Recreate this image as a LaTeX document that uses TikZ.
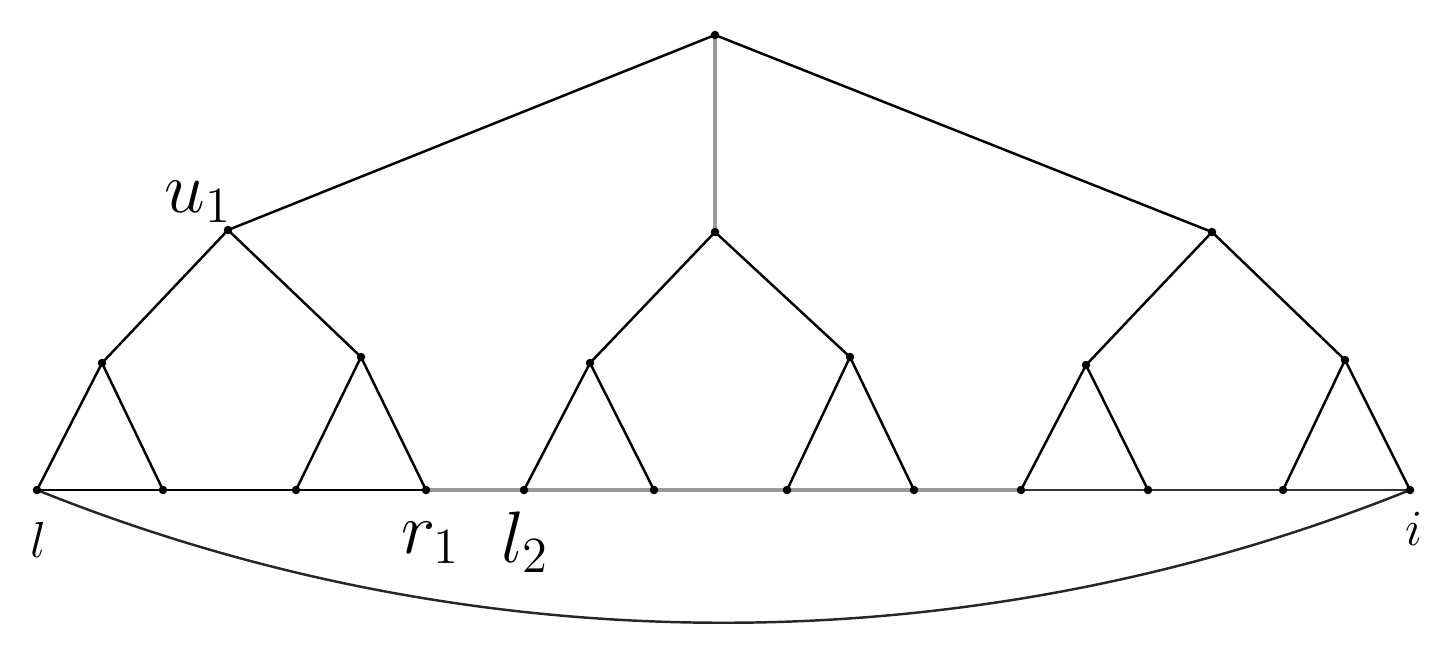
\documentclass[tikz,border=0pt]{standalone}
\pgfdeclarelayer{background}
\pgfsetlayers{background,main}
\begin{document}
\begin{tikzpicture}[x=0.01cm,y=-0.01cm,
  dot/.style={circle,fill=black,inner sep=0pt,minimum size=0.085cm},
  edge/.style={line width=0.7pt,black},
  grayedge/.style={line width=1pt,black!40},
  lab/.style={font=\fontsize{20.74}{25}\selectfont,inner sep=0pt},
  smalllab/.style={font=\fontsize{14.4}{18}\selectfont,inner sep=0pt}]
\useasboundingbox (0,0) rectangle (1452,660);
% nodes
\node[dot] (T) at (715,35) {};
\node[dot] (A1) at (228,230) {};
\node[dot] (A2) at (715,232) {};
\node[dot] (A3) at (1212,232) {};
\node[dot] (B1) at (102,363) {};
\node[dot] (B2) at (361,357) {};
\node[dot] (B3) at (590,363) {};
\node[dot] (B4) at (850,357) {};
\node[dot] (B5) at (1086,365) {};
\node[dot] (B6) at (1345,360) {};
\node[dot] (L1) at (37,490) {};
\node[dot] (L2) at (163,490) {};
\node[dot] (L3) at (296,490) {};
\node[dot] (L4) at (426,490) {};
\node[dot] (L5) at (524,490) {};
\node[dot] (L6) at (654,490) {};
\node[dot] (L7) at (787,490) {};
\node[dot] (L8) at (914,490) {};
\node[dot] (L9) at (1021,490) {};
\node[dot] (L10) at (1148,490) {};
\node[dot] (L11) at (1283,490) {};
\node[dot] (L12) at (1410,490) {};
\begin{pgfonlayer}{background}
% tree edges
\draw[grayedge] (T.center) -- (A2.center);
\draw[edge] (T.center) -- (A1.center);
\draw[edge] (T.center) -- (A3.center);
\draw[edge] (A1.center) -- (B1.center);
\draw[edge] (A1.center) -- (B2.center);
\draw[edge] (A2.center) -- (B3.center);
\draw[edge] (A2.center) -- (B4.center);
\draw[edge] (A3.center) -- (B5.center);
\draw[edge] (A3.center) -- (B6.center);
\draw[edge] (B1.center) -- (L1.center);
\draw[edge] (B1.center) -- (L2.center);
\draw[edge] (B2.center) -- (L3.center);
\draw[edge] (B2.center) -- (L4.center);
\draw[edge] (B3.center) -- (L5.center);
\draw[edge] (B3.center) -- (L6.center);
\draw[edge] (B4.center) -- (L7.center);
\draw[edge] (B4.center) -- (L8.center);
\draw[edge] (B5.center) -- (L9.center);
\draw[edge] (B5.center) -- (L10.center);
\draw[edge] (B6.center) -- (L11.center);
\draw[edge] (B6.center) -- (L12.center);
% base line
\draw[edge] (L1.center) -- (L4.center);
\draw[grayedge] (L4.center) -- (L9.center);
\draw[edge,black!80] (L9.center) -- (L12.center);
% lower arc
\draw[edge,black!85] (L1.center) .. controls (477,667) and (970,667) .. (L12.center);
\end{pgfonlayer}
% labels
\node[lab,anchor=base west] (lu) at (164,212) {$u_1$};
\node[lab,anchor=base west] (lr) at (401,553) {$r_1$};
\node[lab,anchor=base west] (ll) at (501,562) {$l_2$};
\node[smalllab,anchor=base west] (ll1) at (30,557) {$l$};
\node[smalllab,anchor=base west] (li) at (1405,545) {$i$};
\end{tikzpicture}
\end{document}
